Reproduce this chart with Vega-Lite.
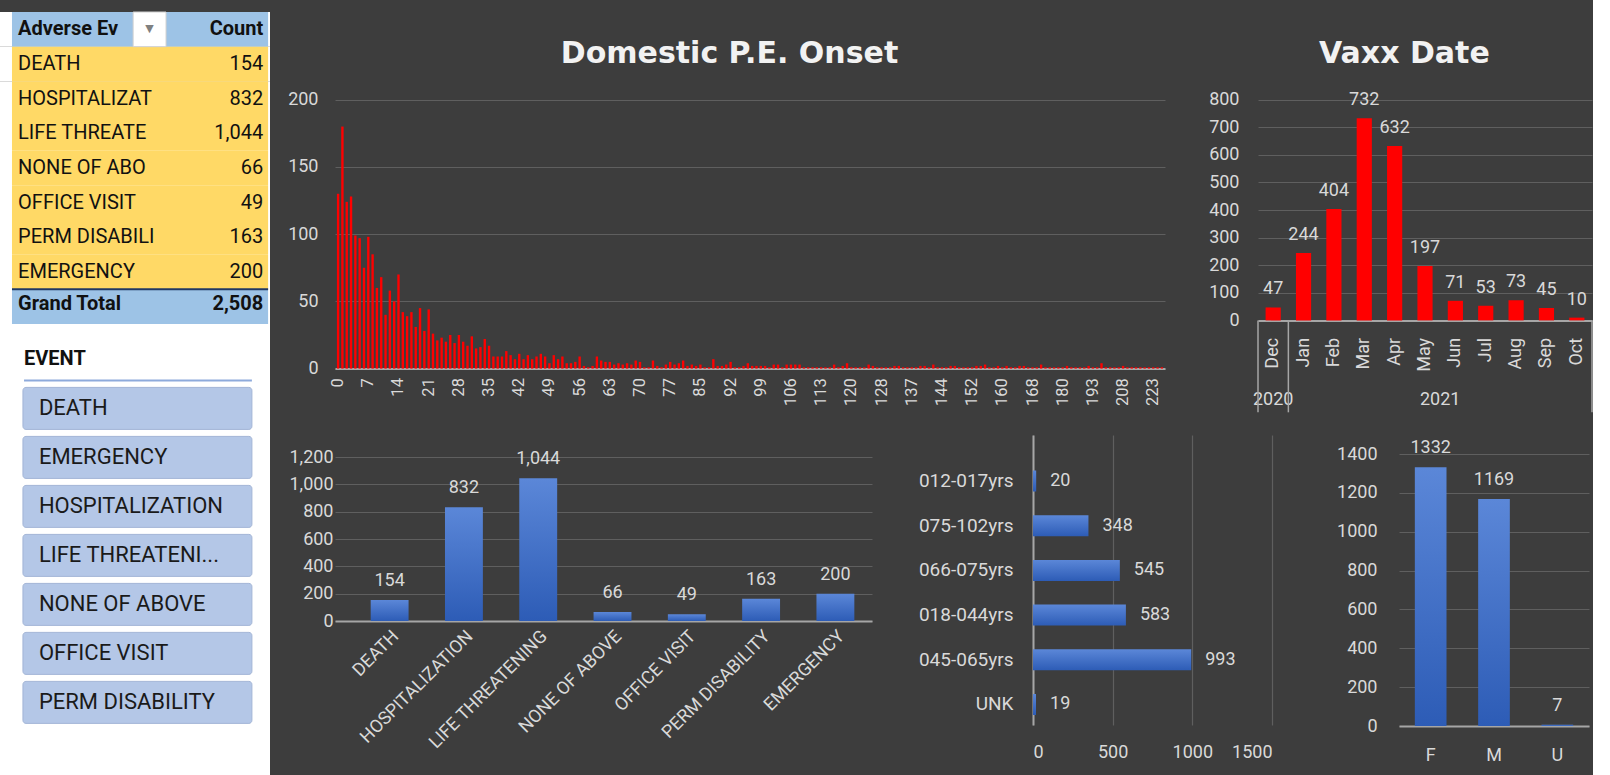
{
  "$schema": "https://vega.github.io/schema/vega-lite/v6.json",
  "background": "#3d3d3d",
  "padding": 0,
  "config": {
    "view": {"stroke": null},
    "font": "Roboto",
    "axis": {"labelColor": "#d9d9d9", "labelFont": "Roboto", "labelFontSize": 17, "labelOverlap": false, "gridColor": "#5f5f5f", "gridWidth": 1.2, "domainColor": "#a6a6a6", "domainWidth": 2, "ticks": false},
    "title": {"color": "#f2f2f2", "font": "DejaVu Sans", "fontSize": 30, "fontWeight": "bold", "lineHeight": 39, "anchor": "middle", "frame": "bounds"},
    "text": {"font": "Roboto"}
  },
  "datasets": {
    "pivotHeader": [{"event": "Adverse Event", "count": "Count"}],
    "pivot": [
      {"event": "DEATH", "count": 154},
      {"event": "HOSPITALIZATION", "count": 832},
      {"event": "LIFE THREATENING", "count": 1044},
      {"event": "NONE OF ABOVE", "count": 66},
      {"event": "OFFICE VISIT", "count": 49},
      {"event": "PERM DISABILITY", "count": 163},
      {"event": "EMERGENCY", "count": 200}
    ],
    "pivotTotal": [{"event": "Grand Total", "count": 2508}],
    "slicerHead": [{"item": "EVENT"}],
    "slicer": [
      {"item": "DEATH"}, {"item": "EMERGENCY"}, {"item": "HOSPITALIZATION"}, {"item": "LIFE THREATENING"},
      {"item": "NONE OF ABOVE"}, {"item": "OFFICE VISIT"}, {"item": "PERM DISABILITY"}
    ],
    "onset": [
      {"day":0,"n":130},{"day":1,"n":180},{"day":2,"n":124},{"day":3,"n":128},{"day":4,"n":99},{"day":5,"n":97},{"day":6,"n":75},{"day":7,"n":98},{"day":8,"n":85},{"day":9,"n":60},
      {"day":10,"n":68},{"day":11,"n":40},{"day":12,"n":58},{"day":13,"n":50},{"day":14,"n":70},{"day":15,"n":42},{"day":16,"n":39},{"day":17,"n":42},{"day":18,"n":31},{"day":19,"n":45},
      {"day":20,"n":28},{"day":21,"n":44},{"day":22,"n":26},{"day":23,"n":21},{"day":24,"n":23},{"day":25,"n":20},{"day":26,"n":25},{"day":27,"n":19},{"day":28,"n":25},{"day":29,"n":20},
      {"day":30,"n":17},{"day":31,"n":24},{"day":32,"n":15},{"day":33,"n":16},{"day":34,"n":22},{"day":35,"n":17},{"day":36,"n":9},{"day":37,"n":9},{"day":38,"n":9},{"day":39,"n":13},
      {"day":40,"n":10},{"day":41,"n":7},{"day":42,"n":11},{"day":43,"n":7},{"day":44,"n":10},{"day":45,"n":7},{"day":46,"n":9},{"day":47,"n":11},{"day":48,"n":9},{"day":49,"n":4},
      {"day":50,"n":10},{"day":51,"n":7},{"day":52,"n":9},{"day":53,"n":4},{"day":54,"n":4},{"day":55,"n":5},{"day":56,"n":9},{"day":57,"n":2},{"day":58,"n":1},{"day":59,"n":2},
      {"day":60,"n":9},{"day":61,"n":6},{"day":62,"n":5},{"day":63,"n":5},{"day":64,"n":3},{"day":65,"n":4},{"day":66,"n":3},{"day":67,"n":4},{"day":68,"n":3},{"day":69,"n":6},
      {"day":70,"n":5},{"day":71,"n":1},{"day":72,"n":1},{"day":73,"n":6},{"day":74,"n":2},{"day":75,"n":1},{"day":76,"n":3},{"day":77,"n":5},{"day":78,"n":3},{"day":79,"n":4},
      {"day":80,"n":6},{"day":81,"n":2},{"day":83,"n":3},{"day":84,"n":2},{"day":85,"n":3},{"day":86,"n":1},{"day":87,"n":1},{"day":88,"n":7},{"day":89,"n":2},{"day":90,"n":2},
      {"day":91,"n":3},{"day":92,"n":5},{"day":93,"n":1},{"day":94,"n":1},{"day":95,"n":2},{"day":96,"n":4},{"day":97,"n":2},{"day":98,"n":2},{"day":99,"n":2},{"day":100,"n":2},
      {"day":101,"n":1},{"day":102,"n":3},{"day":103,"n":3},{"day":104,"n":1},{"day":105,"n":3},{"day":106,"n":3},{"day":107,"n":3},{"day":108,"n":3},{"day":109,"n":1},{"day":110,"n":1},
      {"day":111,"n":1},{"day":112,"n":1},{"day":113,"n":1},{"day":114,"n":1},{"day":115,"n":1},{"day":116,"n":3},{"day":117,"n":1},{"day":118,"n":2},{"day":119,"n":4},{"day":120,"n":1},
      {"day":121,"n":1},{"day":122,"n":1},{"day":123,"n":1},{"day":124,"n":3},{"day":125,"n":2},{"day":126,"n":1},{"day":128,"n":1},{"day":129,"n":1},{"day":130,"n":1},{"day":132,"n":2},
      {"day":133,"n":2},{"day":134,"n":1},{"day":135,"n":1},{"day":137,"n":1},{"day":138,"n":1},{"day":139,"n":2},{"day":140,"n":2},{"day":141,"n":1},{"day":142,"n":3},{"day":143,"n":1},
      {"day":144,"n":1},{"day":145,"n":1},{"day":146,"n":2},{"day":147,"n":2},{"day":148,"n":1},{"day":150,"n":1},{"day":151,"n":1},{"day":152,"n":1},{"day":153,"n":2},{"day":154,"n":2},
      {"day":155,"n":3},{"day":156,"n":1},{"day":158,"n":1},{"day":159,"n":2},{"day":160,"n":1},{"day":161,"n":2},{"day":162,"n":1},{"day":163,"n":1},{"day":165,"n":2},{"day":166,"n":2},
      {"day":167,"n":1},{"day":168,"n":1},{"day":170,"n":1},{"day":172,"n":3},{"day":174,"n":1},{"day":175,"n":1},{"day":177,"n":1},{"day":178,"n":1},{"day":180,"n":1},{"day":181,"n":2},
      {"day":183,"n":1},{"day":185,"n":1},{"day":187,"n":1},{"day":189,"n":1},{"day":191,"n":2},{"day":193,"n":1},{"day":195,"n":1},{"day":197,"n":4},{"day":199,"n":1},{"day":201,"n":1},
      {"day":203,"n":1},{"day":205,"n":1},{"day":208,"n":2},{"day":210,"n":1},{"day":212,"n":1},{"day":214,"n":1},{"day":216,"n":1},{"day":218,"n":1},{"day":220,"n":1},{"day":223,"n":1},
      {"day":230,"n":1},{"day":245,"n":1}
    ],
    "vaxx": [
      {"month": "Dec", "count": 47}, {"month": "Jan", "count": 244}, {"month": "Feb", "count": 404},
      {"month": "Mar", "count": 732}, {"month": "Apr", "count": 632}, {"month": "May", "count": 197},
      {"month": "Jun", "count": 71}, {"month": "Jul", "count": 53}, {"month": "Aug", "count": 73},
      {"month": "Sep", "count": 45}, {"month": "Oct", "count": 10}
    ],
    "years": [{"month": "Dec", "year": "2020"}, {"month": "May", "year": "2021"}],
    "yearEdges": [{"month": "Dec", "edge": "start"}, {"month": "Dec", "edge": "end"}, {"month": "Oct", "edge": "end"}],
    "events": [
      {"event": "DEATH", "count": 154}, {"event": "HOSPITALIZATION", "count": 832},
      {"event": "LIFE THREATENING", "count": 1044}, {"event": "NONE OF ABOVE", "count": 66},
      {"event": "OFFICE VISIT", "count": 49}, {"event": "PERM DISABILITY", "count": 163},
      {"event": "EMERGENCY", "count": 200}
    ],
    "ages": [
      {"age": "012-017yrs", "count": 20}, {"age": "075-102yrs", "count": 348},
      {"age": "066-075yrs", "count": 545}, {"age": "018-044yrs", "count": 583},
      {"age": "045-065yrs", "count": 993}, {"age": "UNK", "count": 19}
    ],
    "sex": [{"sex": "F", "count": 1332}, {"sex": "M", "count": 1169}, {"sex": "U", "count": 7}]
  },
  "spacing": 8,
  "hconcat": [
    {
      "spacing": 0,
      "vconcat": [
        {
          "width": 270, "height": 233,
          "view": {"fill": "#ffffff", "stroke": null},
          "layer": [
            {"data": {"name": "pivotHeader"}, "mark": {"type": "rect", "color": "#ffffff"},
             "encoding": {
               "y": {"field": "event", "type": "nominal", "scale": {"domain": ["Adverse Event","DEATH","HOSPITALIZATION","LIFE THREATENING","NONE OF ABOVE","OFFICE VISIT","PERM DISABILITY","EMERGENCY","Grand Total"], "range": [-73, 239], "paddingInner": 0, "paddingOuter": 0}, "axis": null},
               "x": {"datum": 0, "type": "quantitative", "scale": {"domain": [0, 1], "nice": false, "zero": false}, "axis": null},
               "x2": {"datum": 1}}},
            {"data": {"name": "pivot"}, "mark": {"type": "rect", "color": "#ffffff"},
             "encoding": {
               "y": {"field": "event", "type": "nominal", "axis": null},
               "x": {"datum": 0, "type": "quantitative"},
               "x2": {"datum": 1}}},
            {"data": {"name": "pivotTotal"}, "mark": {"type": "rect", "color": "#ffffff"},
             "encoding": {
               "y": {"field": "event", "type": "nominal", "axis": null},
               "x": {"datum": 0, "type": "quantitative"},
               "x2": {"datum": 1}}},
            {"data": {"name": "pivotHeader"}, "mark": {"type": "rect", "color": "#9dc3e6"},
             "encoding": {
               "y": {"field": "event", "type": "nominal", "axis": null},
               "x": {"datum": 0.0444, "type": "quantitative"},
               "x2": {"datum": 0.993}}},
            {"data": {"name": "pivot"}, "mark": {"type": "rect", "color": "#ffd966"},
             "encoding": {
               "y": {"field": "event", "type": "nominal", "axis": null},
               "x": {"datum": 0.0444, "type": "quantitative"},
               "x2": {"datum": 0.993}}},
            {"data": {"name": "pivotTotal"}, "mark": {"type": "rect", "color": "#9dc3e6"},
             "encoding": {
               "y": {"field": "event", "type": "nominal", "axis": null},
               "x": {"datum": 0.0444, "type": "quantitative"},
               "x2": {"datum": 0.993}}},
            {"data": {"name": "pivotTotal"}, "mark": {"type": "rule", "color": "#203864", "strokeWidth": 2},
             "encoding": {
               "y": {"field": "event", "type": "nominal", "bandPosition": 0, "axis": null},
               "x": {"datum": 0.0444, "type": "quantitative"},
               "x2": {"datum": 0.993}}},
            {"data": {"name": "pivotHeader"}, "mark": {"type": "rect", "color": "#ffffff", "stroke": "#d0d0d0", "strokeWidth": 1},
             "encoding": {
               "y": {"field": "event", "type": "nominal", "axis": null},
               "x": {"datum": 0.493, "type": "quantitative"},
               "x2": {"datum": 0.615}}},
            {"data": {"name": "pivotHeader"}, "mark": {"type": "text", "text": "▼", "align": "center", "baseline": "middle", "fontSize": 11, "color": "#808080", "font": "DejaVu Sans"},
             "encoding": {
               "y": {"field": "event", "type": "nominal", "axis": null},
               "x": {"datum": 0.554, "type": "quantitative"}}},
            {"data": {"name": "pivotHeader"}, "mark": {"type": "text", "align": "left", "baseline": "middle", "fontSize": 20, "fontWeight": "bold", "color": "#111111", "limit": 105, "ellipsis": "\u200b"},
             "encoding": {
               "y": {"field": "event", "type": "nominal", "axis": null},
               "x": {"datum": 0.067, "type": "quantitative"},
               "text": {"field": "event"}}},
            {"data": {"name": "pivotHeader"}, "mark": {"type": "text", "align": "right", "baseline": "middle", "fontSize": 20, "fontWeight": "bold", "color": "#111111"},
             "encoding": {
               "y": {"field": "event", "type": "nominal", "axis": null},
               "x": {"datum": 0.975, "type": "quantitative"},
               "text": {"field": "count"}}},
            {"data": {"name": "pivot"}, "mark": {"type": "text", "align": "left", "baseline": "middle", "fontSize": 20, "color": "#111111", "limit": 139, "ellipsis": "\u200b"},
             "encoding": {
               "y": {"field": "event", "type": "nominal", "axis": null},
               "x": {"datum": 0.067, "type": "quantitative"},
               "text": {"field": "event"}}},
            {"data": {"name": "pivot"}, "mark": {"type": "text", "align": "right", "baseline": "middle", "fontSize": 20, "color": "#111111"},
             "encoding": {
               "y": {"field": "event", "type": "nominal", "axis": null},
               "x": {"datum": 0.975, "type": "quantitative"},
               "text": {"field": "count", "format": ","}}},
            {"data": {"name": "pivotTotal"}, "mark": {"type": "text", "align": "left", "baseline": "middle", "dy": -3, "fontSize": 20, "fontWeight": "bold", "color": "#111111"},
             "encoding": {
               "y": {"field": "event", "type": "nominal", "axis": null},
               "x": {"datum": 0.067, "type": "quantitative"},
               "text": {"field": "event"}}},
            {"data": {"name": "pivotTotal"}, "mark": {"type": "text", "align": "right", "baseline": "middle", "dy": -3, "fontSize": 20, "fontWeight": "bold", "color": "#111111"},
             "encoding": {
               "y": {"field": "event", "type": "nominal", "axis": null},
               "x": {"datum": 0.975, "type": "quantitative"},
               "text": {"field": "count", "format": ","}}}
          ]
        },
        {
          "width": 270, "height": 457,
          "view": {"fill": "#ffffff", "stroke": null},
          "layer": [
            {"data": {"name": "slicerHead"}, "mark": {"type": "text", "align": "left", "baseline": "middle", "fontSize": 20, "fontWeight": "bold", "color": "#111111"},
             "encoding": {
               "y": {"field": "item", "type": "nominal", "scale": {"domain": ["EVENT","DEATH","EMERGENCY","HOSPITALIZATION","LIFE THREATENING","NONE OF ABOVE","OFFICE VISIT","PERM DISABILITY"], "paddingInner": 0.143, "paddingOuter": 0.735, "align": 0.2}, "axis": null},
               "x": {"datum": 0.089, "type": "quantitative", "scale": {"domain": [0, 1], "nice": false, "zero": false}, "axis": null},
               "text": {"field": "item"}}},
            {"data": {"name": "slicerHead"}, "mark": {"type": "rule", "color": "#8eaadb", "strokeWidth": 2},
             "encoding": {
               "y": {"field": "item", "type": "nominal", "bandPosition": 1, "axis": null},
               "x": {"datum": 0.089, "type": "quantitative"},
               "x2": {"datum": 0.933}}},
            {"data": {"name": "slicer"}, "mark": {"type": "rect", "color": "#b4c7e7", "stroke": "#a3b5d6", "strokeWidth": 1, "cornerRadius": 3},
             "encoding": {
               "y": {"field": "item", "type": "nominal", "axis": null},
               "x": {"datum": 0.085, "type": "quantitative"},
               "x2": {"datum": 0.933}}},
            {"data": {"name": "slicer"}, "mark": {"type": "text", "align": "left", "baseline": "middle", "fontSize": 22, "color": "#1a1a1a", "limit": 188, "ellipsis": "..."},
             "encoding": {
               "y": {"field": "item", "type": "nominal", "axis": null},
               "x": {"datum": 0.144, "type": "quantitative"},
               "text": {"field": "item"}}}
          ]
        }
      ]
    },
    {
      "spacing": 11,
      "vconcat": [
        {
          "spacing": 43,
          "hconcat": [
            {
              "width": 830, "height": 283.6,
              "title": {"text": ["", "Domestic P.E. Onset"], "offset": 16, "dx": 8},
              "data": {"name": "onset"},
              "mark": {"type": "bar", "color": "#ff0000"},
              "encoding": {
                "x": {"field": "day", "type": "ordinal", "sort": "ascending", "title": null,
                      "scale": {"paddingInner": 0.45, "paddingOuter": 0.445},
                      "axis": {"values": [0,7,14,21,28,35,42,49,56,63,70,77,85,92,99,106,113,120,128,137,144,152,160,168,180,193,208,223],
                               "labelAngle": -90, "labelPadding": 9, "labelFontSize": 16.5, "minExtent": 55, "grid": false}},
                "y": {"field": "n", "type": "quantitative", "title": null,
                      "scale": {"domain": [0, 210.9], "nice": false},
                      "axis": {"values": [0, 50, 100, 150, 200], "minExtent": 57, "labelPadding": 17, "labelFontSize": 18, "domain": false, "grid": true}}
              }
            },
            {
              "width": 334, "height": 235.4,
              "title": {"text": ["", "Vaxx Date"], "offset": 16, "dx": 4},
              "layer": [
                {"data": {"name": "vaxx"}, "mark": {"type": "bar", "color": "#ff0000"},
                 "encoding": {
                   "x": {"field": "month", "type": "ordinal", "title": null,
                         "scale": {"domain": ["Dec","Jan","Feb","Mar","Apr","May","Jun","Jul","Aug","Sep","Oct"], "paddingInner": 0.5, "paddingOuter": 0.25},
                         "axis": {"labelAngle": -90, "labelPadding": 17, "labelFontSize": 18, "grid": false}},
                   "y": {"field": "count", "type": "quantitative", "title": null,
                         "scale": {"domain": [0, 852.9], "nice": false},
                         "axis": {"values": [0,100,200,300,400,500,600,700,800], "labelOverlap": false, "minExtent": 50, "labelPadding": 19, "labelFontSize": 18, "domain": false, "grid": true}}}},
                {"data": {"name": "vaxx"}, "mark": {"type": "text", "baseline": "bottom", "dy": -9, "fontSize": 18, "color": "#d9d9d9"},
                 "encoding": {
                   "x": {"field": "month", "type": "ordinal", "title": null},
                   "y": {"field": "count", "type": "quantitative", "title": null,
                         "axis": {"values": [0,100,200,300,400,500,600,700,800], "labelOverlap": false, "minExtent": 50, "labelPadding": 19, "labelFontSize": 18, "domain": false, "grid": true}},
                   "text": {"field": "count"}}},
                {"data": {"name": "years"}, "transform": [{"filter": "datum.year === '2020'"}],
                 "mark": {"type": "text", "baseline": "middle", "dy": 80, "fontSize": 18, "color": "#d9d9d9"},
                 "encoding": {
                   "x": {"field": "month", "type": "ordinal", "bandPosition": 0.5, "title": null},
                   "y": {"datum": 0, "type": "quantitative", "title": null,
                         "axis": {"values": [0,100,200,300,400,500,600,700,800], "labelOverlap": false, "minExtent": 50, "labelPadding": 19, "labelFontSize": 18, "domain": false, "grid": true}},
                   "text": {"field": "year"}}},
                {"data": {"name": "years"}, "transform": [{"filter": "datum.year === '2021'"}],
                 "mark": {"type": "text", "baseline": "middle", "dy": 80, "fontSize": 18, "color": "#d9d9d9"},
                 "encoding": {
                   "x": {"field": "month", "type": "ordinal", "bandPosition": 1.5, "title": null},
                   "y": {"datum": 0, "type": "quantitative", "title": null,
                         "axis": {"values": [0,100,200,300,400,500,600,700,800], "labelOverlap": false, "minExtent": 50, "labelPadding": 19, "labelFontSize": 18, "domain": false, "grid": true}},
                   "text": {"field": "year"}}},
                {"data": {"name": "yearEdges"}, "transform": [{"filter": "datum.edge === 'start'"}],
                 "mark": {"type": "rule", "color": "#a6a6a6", "strokeWidth": 1.5},
                 "encoding": {
                   "x": {"field": "month", "type": "ordinal", "bandPosition": -0.5, "title": null},
                   "y": {"datum": 0, "type": "quantitative", "title": null,
                         "axis": {"values": [0,100,200,300,400,500,600,700,800], "labelOverlap": false, "minExtent": 50, "labelPadding": 19, "labelFontSize": 18, "domain": false, "grid": true}},
                   "y2": {"datum": -333}}},
                {"data": {"name": "yearEdges"}, "transform": [{"filter": "datum.edge === 'end'"}],
                 "mark": {"type": "rule", "color": "#a6a6a6", "strokeWidth": 1.5},
                 "encoding": {
                   "x": {"field": "month", "type": "ordinal", "bandPosition": 1.5, "title": null},
                   "y": {"datum": 0, "type": "quantitative", "title": null,
                         "axis": {"values": [0,100,200,300,400,500,600,700,800], "labelOverlap": false, "minExtent": 50, "labelPadding": 19, "labelFontSize": 18, "domain": false, "grid": true}},
                   "y2": {"datum": -333}}}
              ]
            }
          ]
        },
        {
          "spacing": 46,
          "hconcat": [
            {
              "width": 537, "height": 186,
              "data": {"name": "events"},
              "encoding": {
                "x": {"field": "event", "type": "nominal", "sort": null, "title": null,
                      "scale": {"paddingInner": 0.49, "paddingOuter": 0.359, "align": 0.669},
                      "axis": {"labelAngle": -45, "labelFontSize": 18, "labelPadding": 6, "grid": false}},
                "y": {"field": "count", "type": "quantitative", "title": null,
                      "scale": {"domain": [0, 1361], "nice": false},
                      "axis": {"values": [0,200,400,600,800,1000,1200], "format": ",.0f", "minExtent": 50, "labelPadding": 2, "labelFontSize": 18, "domain": false, "grid": true}}
              },
              "layer": [
                {"mark": {"type": "bar", "color": {"gradient": "linear", "x1": 0, "y1": 0, "x2": 0, "y2": 1, "stops": [{"offset": 0, "color": "#5b87d8"}, {"offset": 1, "color": "#2d5cb6"}]}}},
                {"mark": {"type": "text", "baseline": "bottom", "dy": -10, "fontSize": 18, "color": "#d9d9d9"},
                 "encoding": {"text": {"field": "count", "format": ","}}}
              ]
            },
            {
              "width": 239, "height": 290,
              "data": {"name": "ages"},
              "encoding": {
                "y": {"field": "age", "type": "nominal", "sort": null, "title": null,
                      "scale": {"paddingInner": 0.53, "paddingOuter": 0.509, "align": 0.78},
                      "axis": {"labelFontSize": 19, "labelPadding": 20, "minExtent": 115, "domain": true, "grid": false}},
                "x": {"field": "count", "type": "quantitative", "title": null,
                      "scale": {"domain": [0, 1500], "nice": false},
                      "axis": {"values": [0, 500, 1000, 1500], "format": "d", "labelPadding": 18, "labelFontSize": 18, "domain": false, "grid": true}}
              },
              "layer": [
                {"mark": {"type": "bar", "color": {"gradient": "linear", "x1": 0, "y1": 0, "x2": 0, "y2": 1, "stops": [{"offset": 0, "color": "#5b87d8"}, {"offset": 1, "color": "#2d5cb6"}]}}},
                {"mark": {"type": "text", "align": "left", "baseline": "middle", "dx": 14, "fontSize": 18, "color": "#d9d9d9"},
                 "encoding": {"text": {"field": "count"}}}
              ]
            },
            {
              "width": 190, "height": 291,
              "data": {"name": "sex"},
              "encoding": {
                "x": {"field": "sex", "type": "nominal", "sort": null, "title": null,
                      "scale": {"paddingInner": 0.5, "paddingOuter": 0.25},
                      "axis": {"labelAngle": 0, "labelFontSize": 18, "labelPadding": 20, "grid": false}},
                "y": {"field": "count", "type": "quantitative", "title": null,
                      "scale": {"domain": [0, 1497.8], "nice": false},
                      "axis": {"values": [0,200,400,600,800,1000,1200,1400], "format": "d", "minExtent": 81, "labelPadding": 22, "labelFontSize": 18, "domain": false, "grid": true}}
              },
              "layer": [
                {"mark": {"type": "bar", "color": {"gradient": "linear", "x1": 0, "y1": 0, "x2": 0, "y2": 1, "stops": [{"offset": 0, "color": "#5b87d8"}, {"offset": 1, "color": "#2d5cb6"}]}}},
                {"mark": {"type": "text", "baseline": "bottom", "dy": -10, "fontSize": 18, "color": "#d9d9d9"},
                 "encoding": {"text": {"field": "count"}}}
              ]
            }
          ]
        }
      ]
    }
  ]
}
